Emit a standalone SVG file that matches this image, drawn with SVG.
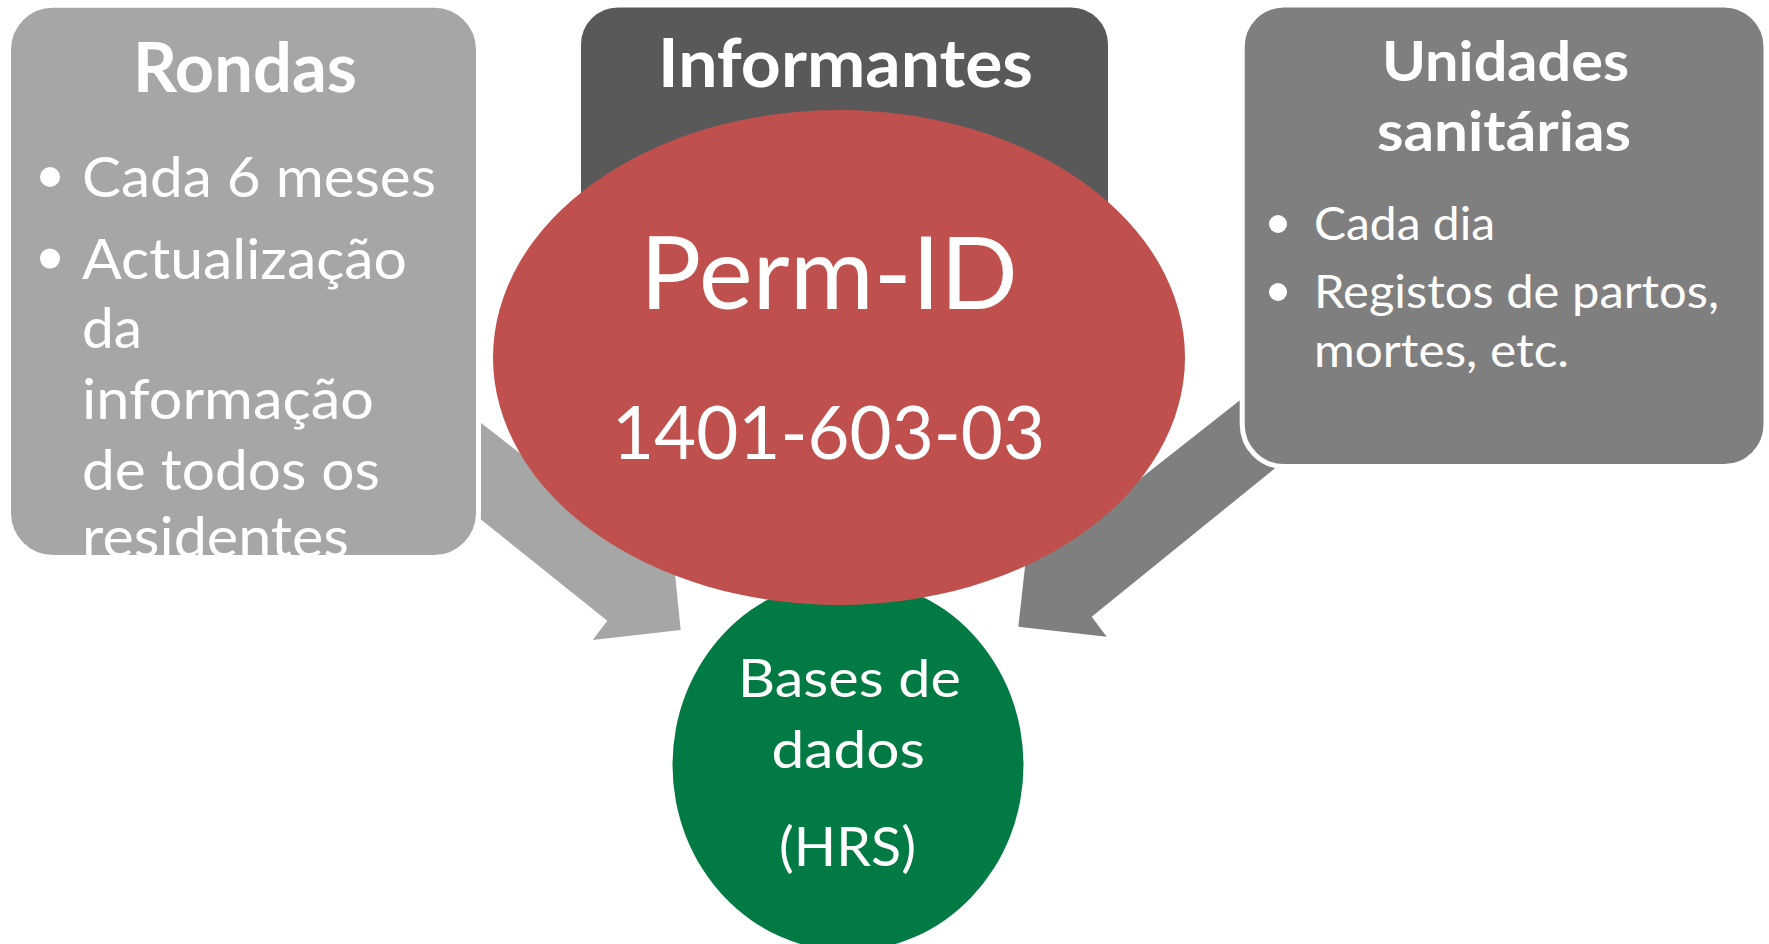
<svg xmlns="http://www.w3.org/2000/svg" width="1769" height="944" viewBox="0 0 1769 944">
<defs>
<style>
.t{font-family:Lato,"Open Sans","Noto Sans",sans-serif;fill:#FFFFFF;}
.b{font-weight:700;}
.box{stroke:#FFFFFF;stroke-width:5;}
</style>
<clipPath id="clipR"><rect x="11" y="7" width="465" height="548" rx="42"/></clipPath>
</defs>
<rect width="1769" height="944" fill="#FFFFFF"/>
<g id="connectors">
<polygon fill="#A6A6A6" points="460,406.6 657,560.2 671.8,541.9 680.7,630 592.7,640 607.3,620.7 460,502.7"/>
<polygon fill="#7F7F7F" points="1300,353 1042.2,555.9 1028.2,538.3 1018.3,626.7 1106.7,636.7 1091.7,616.7 1300,448"/>
</g>
<g id="rondas">
<rect class="box" x="8.5" y="5.2" width="470" height="552.3" rx="44.5" fill="#A6A6A6"/>
<text class="t b" x="133" y="92" font-size="69" textLength="224" lengthAdjust="spacingAndGlyphs">Rondas</text>
<circle cx="50" cy="177" r="10" fill="#FFFFFF"/>
<circle cx="50" cy="258.6" r="10" fill="#FFFFFF"/>
<g clip-path="url(#clipR)" font-size="57">
<text class="t" x="82" y="197" textLength="354" lengthAdjust="spacingAndGlyphs">Cada 6 meses</text>
<text class="t" x="82" y="278.6" textLength="325" lengthAdjust="spacingAndGlyphs">Actualização</text>
<text class="t" x="82" y="348" textLength="60" lengthAdjust="spacingAndGlyphs">da</text>
<text class="t" x="82" y="419" textLength="292" lengthAdjust="spacingAndGlyphs">informação</text>
<text class="t" x="82" y="490" textLength="298" lengthAdjust="spacingAndGlyphs">de todos os</text>
<text class="t" x="82" y="557" textLength="267" lengthAdjust="spacingAndGlyphs">residentes</text>
</g>
</g>
<g id="unidades">
<rect class="box" x="1242.2" y="5" width="523.8" height="461.5" rx="42" fill="#7F7F7F"/>
<text class="t b" x="1382" y="81" font-size="56" textLength="247" lengthAdjust="spacingAndGlyphs">Unidades</text>
<text class="t b" x="1377" y="151" font-size="56" textLength="254" lengthAdjust="spacingAndGlyphs">sanitárias</text>
<circle cx="1278" cy="224" r="9" fill="#FFFFFF"/>
<circle cx="1278" cy="292" r="9" fill="#FFFFFF"/>
<text class="t" x="1314" y="239.6" font-size="45.5" textLength="181" lengthAdjust="spacingAndGlyphs">Cada dia</text>
<text class="t" x="1314" y="307.6" font-size="45.5" textLength="405" lengthAdjust="spacingAndGlyphs">Registos de partos,</text>
<text class="t" x="1314" y="367" font-size="45.5" textLength="255" lengthAdjust="spacingAndGlyphs">mortes, etc.</text>
</g>
<g id="informantes">
<rect class="box" x="578.5" y="5" width="532" height="477.5" rx="39.5" fill="#595959"/>
<text class="t b" x="658" y="87" font-size="67" textLength="375" lengthAdjust="spacingAndGlyphs">Informantes</text>
</g>
<g id="bases">
<ellipse cx="848" cy="765" rx="175.5" ry="186" fill="#017A43"/>
<text class="t" x="738" y="696.5" font-size="53" textLength="223" lengthAdjust="spacingAndGlyphs">Bases de</text>
<text class="t" x="771.5" y="767.8" font-size="53" textLength="153.5" lengthAdjust="spacingAndGlyphs">dados</text>
<text class="t" x="779" y="865.6" font-size="54" textLength="137" lengthAdjust="spacingAndGlyphs">(HRS)</text>
</g>
<g id="permid">
<ellipse cx="839" cy="357.5" rx="346" ry="247.5" fill="#C0504D"/>
<text class="t" x="640" y="309" font-size="101" textLength="378" lengthAdjust="spacingAndGlyphs">Perm-ID</text>
<text class="t" x="612" y="459" font-size="74" textLength="433" lengthAdjust="spacingAndGlyphs">1401-603-03</text>
</g>
</svg>
